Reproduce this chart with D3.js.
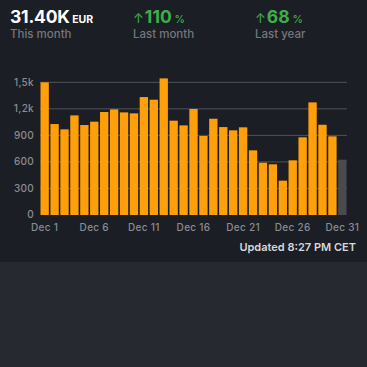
<!DOCTYPE html>
<html><head><meta charset="utf-8">
<script src="https://cdn.jsdelivr.net/npm/d3@7/dist/d3.min.js"></script>
<style>
html,body{margin:0;padding:0;background:#1c1e25;}
svg{display:block;font-family:Inter,"Open Sans",sans-serif;}
</style></head>
<body>
<svg id="c" width="367" height="367"></svg>
<script>
const days = d3.range(1, 32);
const values = [1500,1028,968,1126,1017,1055,1164,1194,1160,1149,1333,1303,1544,1066,1013,1198,893,1088,994,957,991,731,591,573,388,618,878,1273,1020,889,625];
const yTicks = [0,300,600,900,1200,1500];
const yTickLabels = ["0","300","600","900","1,2k","1,5k"];
const xTickDays = [1,6,11,16,21,26,31];
const stats = [
  {value:"31.40K", unit:"EUR", label:"This month", arrow:false},
  {value:"110", unit:"%", label:"Last month", arrow:true},
  {value:"68", unit:"%", label:"Last year", arrow:true}
];
const updatedText = "Updated 8:27 PM CET";

const svg = d3.select("#c");
svg.append("rect").attr("x",0).attr("y",0).attr("width",367).attr("height",262).attr("fill","#1c1e25");
svg.append("rect").attr("x",0).attr("y",262).attr("width",367).attr("height",105).attr("fill","#262930");

// header
const hx = [10,133,255];
stats.forEach((s,i)=>{
  const g = svg.append("g").attr("transform",`translate(${hx[i]},0)`);
  const t = g.append("text").attr("y",22.5);
  if(s.arrow){
    t.append("tspan").text("↑").attr("fill","#3fae4a").attr("font-size",13).attr("font-weight",400);
    t.append("tspan").text(s.value).attr("fill","#3fae4a").attr("font-size",17.5).attr("font-weight",700).attr("dx",1);
    t.append("tspan").text(" "+s.unit).attr("fill","#3fae4a").attr("font-size",10.5).attr("font-weight",500);
  } else {
    t.append("tspan").text(s.value).attr("fill","#ffffff").attr("font-size",17.5).attr("font-weight",700).attr("letter-spacing",-0.2);
    t.append("tspan").text(" "+s.unit).attr("fill","#ffffff").attr("font-size",10.5).attr("font-weight",700);
  }
  g.append("text").attr("y",37.5).text(s.label).attr("fill","#75777d").attr("font-size",11.5).attr("font-weight",500);
});

const x = d3.scaleBand().domain(days).range([40,347]).paddingInner(0.16).paddingOuter(0.05);
const y = d3.scaleLinear().domain([0,1500]).range([215,82.3]);

// grid
svg.append("g").selectAll("line").data(yTicks.slice(1)).join("line")
  .attr("x1",40).attr("x2",347).attr("y1",d=>y(d)).attr("y2",d=>y(d))
  .attr("stroke","#50535a").attr("stroke-width",1);

// y labels
svg.append("g").selectAll("text").data(yTicks).join("text")
  .attr("x",34).attr("y",d=>y(d)+3.3).attr("text-anchor","end")
  .attr("fill","#8a8c92").attr("font-size",10).attr("font-weight",500).attr("letter-spacing",0.3)
  .text((d,i)=>yTickLabels[i]);

// bars
svg.append("g").selectAll("rect").data(values).join("rect")
  .attr("x",(d,i)=>x(days[i])).attr("width",x.bandwidth())
  .attr("y",d=>y(d)).attr("height",d=>y(0)-y(d))
  .attr("fill",(d,i)=>i===values.length-1?"#4a4b4f":"#ff9f0a");

// x labels
svg.append("g").selectAll("text").data(xTickDays).join("text")
  .attr("x",d=>x(d)+x.bandwidth()/2).attr("y",230.5).attr("text-anchor","middle")
  .attr("fill","#8a8c92").attr("font-size",10).attr("font-weight",500).attr("letter-spacing",0.3)
  .text(d=>"Dec "+d);

svg.append("text").attr("x",356).attr("y",251).attr("text-anchor","end")
  .attr("fill","#d8d8dc").attr("font-size",11).attr("font-weight",600).text(updatedText);
</script>
</body></html>
